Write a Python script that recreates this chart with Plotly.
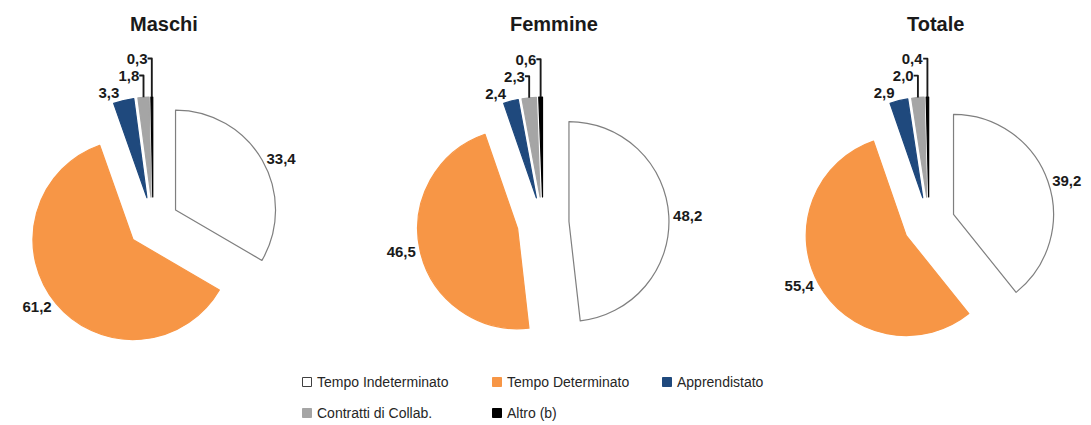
import plotly.graph_objects as go

# page body adds an 8px offset, so the figure is a little smaller than the window
OFF = 8
W, H = 1091 - OFF, 425 - OFF

# %% Data
categories = ['Tempo Indeterminato', 'Tempo Determinato', 'Apprendistato',
              'Contratti di Collab.', 'Altro (b)']
groups = ['Maschi', 'Femmine', 'Totale']
maschi = [33.4, 61.2, 3.3, 1.8, 0.3]
femmine = [48.2, 46.5, 2.4, 2.3, 0.6]
totale = [39.2, 55.4, 2.9, 2.0, 0.4]

fill_colors = ['#ffffff', '#f79646', '#1f497d', '#a5a5a5', '#000000']
line_colors = ['#7f7f7f', '#f79646', '#1f497d', '#a5a5a5', '#000000']

# %% Layout helpers (window pixel positions -> paper)
pie_cx = [153, 543, 929]
pie_cy = 223
box = 252
pull = 0.26
title_x = [164, 554, 935]
title_y = 24


def px(x):
    return (x - OFF) / W


def py(y):
    return 1 - (y - OFF) / H


fig = go.Figure()
for name, vals, cx in zip(groups, (maschi, femmine, totale), pie_cx):
    fig.add_trace(go.Pie(
        labels=categories,
        values=vals,
        name=name,
        text=[f'{v:.1f}'.replace('.', ',') for v in vals],
        texttemplate='<b>%{text}</b>',
        textposition='outside',
        outsidetextfont=dict(size=15, color='#1a1a1a',
                             family='Liberation Sans, Arial, sans-serif'),
        sort=False,
        direction='clockwise',
        rotation=0,
        pull=[pull] * len(vals),
        marker=dict(colors=fill_colors,
                    line=dict(color=line_colors, width=1.2)),
        domain=dict(x=[px(cx - box / 2), px(cx + box / 2)],
                    y=[py(pie_cy + box / 2), py(pie_cy - box / 2)]),
        showlegend=False,
        hoverinfo='label+value',
    ))

# titles
for name, tx in zip(groups, title_x):
    fig.add_annotation(text=f'<b>{name}</b>', x=px(tx), y=py(title_y),
                       xref='paper', yref='paper', showarrow=False,
                       xanchor='center', yanchor='middle',
                       font=dict(size=20, color='#1a1a1a'))

# legend drawn by hand (two rows, like the original)
leg_x = [307, 497, 667, 307, 497]
leg_y = [382, 382, 382, 413, 413]
sq = 9
for lab, fc, lc, lx, ly in zip(categories, fill_colors, line_colors, leg_x, leg_y):
    fig.add_shape(type='rect', xref='paper', yref='paper',
                  x0=px(lx - sq / 2), x1=px(lx + sq / 2),
                  y0=py(ly + sq / 2), y1=py(ly - sq / 2),
                  fillcolor=fc, line=dict(color=lc if fc != '#ffffff' else '#404040',
                                          width=1))
    fig.add_annotation(text=lab, x=px(lx + sq / 2 + 3), y=py(ly),
                       xref='paper', yref='paper', showarrow=False,
                       xanchor='left', yanchor='middle',
                       font=dict(size=14, color='#262626'))

fig.update_layout(
    width=W, height=H,
    margin=dict(l=0, r=0, t=0, b=0, autoexpand=False),
    paper_bgcolor='white',
    plot_bgcolor='white',
    font=dict(family='Liberation Sans, Arial, sans-serif'),
)

fig.write_html('out.html')
